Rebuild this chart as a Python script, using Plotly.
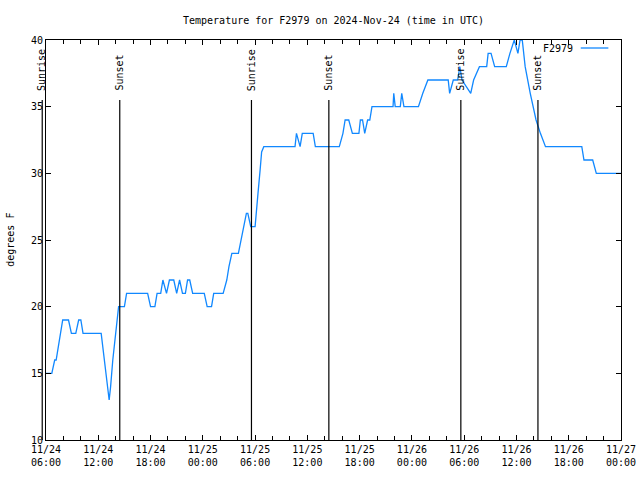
import pandas as pd
import plotly.graph_objects as go

# ---------------- data ----------------
times = [
    "2024-11-24 06:00", "2024-11-24 06:40", "2024-11-24 07:00", "2024-11-24 07:10",
    "2024-11-24 07:25", "2024-11-24 07:40", "2024-11-24 07:55", "2024-11-24 08:35",
    "2024-11-24 08:55", "2024-11-24 09:25", "2024-11-24 09:45", "2024-11-24 10:00",
    "2024-11-24 10:15", "2024-11-24 12:20", "2024-11-24 12:30", "2024-11-24 12:40",
    "2024-11-24 12:50", "2024-11-24 13:00", "2024-11-24 13:15", "2024-11-24 13:25",
    "2024-11-24 13:30", "2024-11-24 13:40", "2024-11-24 13:50", "2024-11-24 14:00",
    "2024-11-24 14:10", "2024-11-24 14:20", "2024-11-24 15:00", "2024-11-24 15:15",
    "2024-11-24 17:40", "2024-11-24 18:00", "2024-11-24 18:30", "2024-11-24 18:45",
    "2024-11-24 19:10", "2024-11-24 19:25", "2024-11-24 19:50", "2024-11-24 20:10",
    "2024-11-24 20:40", "2024-11-24 21:00", "2024-11-24 21:20", "2024-11-24 21:40",
    "2024-11-24 22:00", "2024-11-24 22:15", "2024-11-24 22:30", "2024-11-24 22:50",
    "2024-11-25 00:10", "2024-11-25 00:30", "2024-11-25 01:00", "2024-11-25 01:15",
    "2024-11-25 02:20", "2024-11-25 02:45", "2024-11-25 03:00", "2024-11-25 03:20",
    "2024-11-25 04:05", "2024-11-25 04:25", "2024-11-25 04:40", "2024-11-25 05:00",
    "2024-11-25 05:10", "2024-11-25 05:30", "2024-11-25 06:00", "2024-11-25 06:10",
    "2024-11-25 06:20", "2024-11-25 06:35", "2024-11-25 06:45", "2024-11-25 07:00",
    "2024-11-25 10:35", "2024-11-25 10:45", "2024-11-25 11:10", "2024-11-25 11:25",
    "2024-11-25 12:40", "2024-11-25 12:55", "2024-11-25 15:40", "2024-11-25 16:05",
    "2024-11-25 16:20", "2024-11-25 16:45", "2024-11-25 17:10", "2024-11-25 17:55",
    "2024-11-25 18:05", "2024-11-25 18:20", "2024-11-25 18:35", "2024-11-25 18:55",
    "2024-11-25 19:10", "2024-11-25 19:25", "2024-11-25 21:50", "2024-11-25 21:55",
    "2024-11-25 22:05", "2024-11-25 22:40", "2024-11-25 22:50", "2024-11-25 23:05",
    "2024-11-26 00:45", "2024-11-26 01:15", "2024-11-26 01:50", "2024-11-26 04:10",
    "2024-11-26 04:20", "2024-11-26 04:45", "2024-11-26 05:15", "2024-11-26 05:30",
    "2024-11-26 05:45", "2024-11-26 06:45", "2024-11-26 07:05", "2024-11-26 07:45",
    "2024-11-26 08:35", "2024-11-26 08:45", "2024-11-26 09:05", "2024-11-26 09:30",
    "2024-11-26 10:50", "2024-11-26 11:15", "2024-11-26 11:30", "2024-11-26 11:45",
    "2024-11-26 12:10", "2024-11-26 12:25", "2024-11-26 12:40", "2024-11-26 13:00",
    "2024-11-26 13:35", "2024-11-26 14:15", "2024-11-26 14:45", "2024-11-26 15:20",
    "2024-11-26 19:30", "2024-11-26 19:45", "2024-11-26 20:45", "2024-11-26 21:10",
    "2024-11-27 00:00",
]
temps = [
    15, 15, 16, 16,
    17, 18, 19, 19,
    18, 18, 19, 19,
    18, 18, 17, 16,
    15, 14, 13, 14,
    15, 16, 17, 18,
    19, 20, 20, 21,
    21, 20, 20, 21,
    21, 22, 21, 22,
    22, 21, 22, 21,
    21, 22, 22, 21,
    21, 20, 20, 21,
    21, 22, 23, 24,
    24, 25, 26, 27,
    27, 26, 26, 27,
    28.5, 30.3, 31.6, 32,
    32, 33, 32, 33,
    33, 32, 32, 33,
    34, 34, 33, 33,
    34, 34, 33, 34,
    34, 35, 35, 36,
    35, 35, 36, 35,
    35, 36, 37, 37,
    36, 37, 37, 38,
    37, 36, 37, 38,
    38, 39, 39, 38,
    38, 39, 39.5, 40,
    39, 40, 40, 38,
    36, 34, 33, 32,
    32, 31, 31, 30,
    30,
]

sunrise_times = ["2024-11-24 05:34", "2024-11-25 05:35", "2024-11-26 05:37"]
sunset_times = ["2024-11-24 14:28", "2024-11-25 14:28", "2024-11-26 14:28"]

x_start = "2024-11-24 06:00"
x_end = "2024-11-27 00:00"
tick_times = [
    "2024-11-24 06:00", "2024-11-24 12:00", "2024-11-24 18:00", "2024-11-25 00:00",
    "2024-11-25 06:00", "2024-11-25 12:00", "2024-11-25 18:00", "2024-11-26 00:00",
    "2024-11-26 06:00", "2024-11-26 12:00", "2024-11-26 18:00", "2024-11-27 00:00",
]
tick_labels = [
    "11/24<br>06:00", "11/24<br>12:00", "11/24<br>18:00", "11/25<br>00:00",
    "11/25<br>06:00", "11/25<br>12:00", "11/25<br>18:00", "11/26<br>00:00",
    "11/26<br>06:00", "11/26<br>12:00", "11/26<br>18:00", "11/27<br>00:00",
]
y_ticks = [10, 15, 20, 25, 30, 35, 40]

# ---------------- figure ----------------
FONT = "DejaVu Sans Mono"
LINE_COLOR = "#1188ff"

fig = go.Figure()
fig.add_trace(go.Scatter(
    x=pd.to_datetime(times), y=temps, mode="lines",
    line=dict(color=LINE_COLOR, width=1.3), name="F2979", showlegend=False,
))

t0 = pd.Timestamp(x_start)
t1 = pd.Timestamp(x_end)


def frac(ts):
    return (pd.Timestamp(ts) - t0) / (t1 - t0)


shapes = []
annotations = []
for label, lst in (("Sunrise", sunrise_times), ("Sunset", sunset_times)):
    for ts in lst:
        fx = frac(ts)
        shapes.append(dict(type="line", xref="paper", yref="paper",
                           x0=fx, x1=fx, y0=0, y1=0.85,
                           line=dict(color="black", width=1.2)))
        annotations.append(dict(text=label, xref="paper", yref="paper",
                                x=fx, y=0.868, xanchor="center", yanchor="bottom",
                                textangle=-90, showarrow=False,
                                font=dict(family=FONT, size=10, color="black")))

# legend (gnuplot style: text then sample line)
annotations.append(dict(text="F2979", xref="paper", yref="paper", x=0.92, y=0.98,
                        xanchor="right", yanchor="middle", showarrow=False,
                        font=dict(family=FONT, size=10, color="black")))
shapes.append(dict(type="line", xref="paper", yref="paper", x0=0.93, x1=0.978,
                   y0=0.98, y1=0.98, line=dict(color=LINE_COLOR, width=1.3)))

# y axis title
annotations.append(dict(text="degrees F", xref="paper", yref="paper", x=-0.063, y=0.5,
                        xanchor="center", yanchor="middle", textangle=-90,
                        showarrow=False, font=dict(family=FONT, size=10, color="black")))

fig.update_layout(
    width=640, height=480,
    margin=dict(l=46, r=19, t=40, b=40, autoexpand=False),
    paper_bgcolor="white", plot_bgcolor="white",
    font=dict(family=FONT, size=10, color="black"),
    title=dict(text="Temperature for F2979 on 2024-Nov-24 (time in UTC)",
               x=0.5, xref="paper", xanchor="center",
               y=1 - 20 / 480, yref="container", yanchor="middle",
               font=dict(family=FONT, size=10, color="black")),
    shapes=shapes, annotations=annotations,
    showlegend=False,
)
fig.update_xaxes(
    range=[t0, t1], type="date", automargin=False,
    tickvals=pd.to_datetime(tick_times), ticktext=tick_labels,
    ticks="inside", ticklen=5, tickcolor="black", tickwidth=1,
    showline=True, linecolor="black", linewidth=1, mirror="ticks",
    showgrid=False, zeroline=False,
    minor=dict(dtick=2 * 3600 * 1000, ticks="inside", ticklen=4,
               tickcolor="black", showgrid=False),
    tickfont=dict(family=FONT, size=10, color="black"),
)
fig.update_yaxes(
    range=[10, 40], tickvals=y_ticks, automargin=False,
    ticks="inside", ticklen=5, tickcolor="black", tickwidth=1,
    showline=True, linecolor="black", linewidth=1, mirror="ticks",
    showgrid=False, zeroline=False,
    tickfont=dict(family=FONT, size=10, color="black"),
)

fig.write_html("out.html")
